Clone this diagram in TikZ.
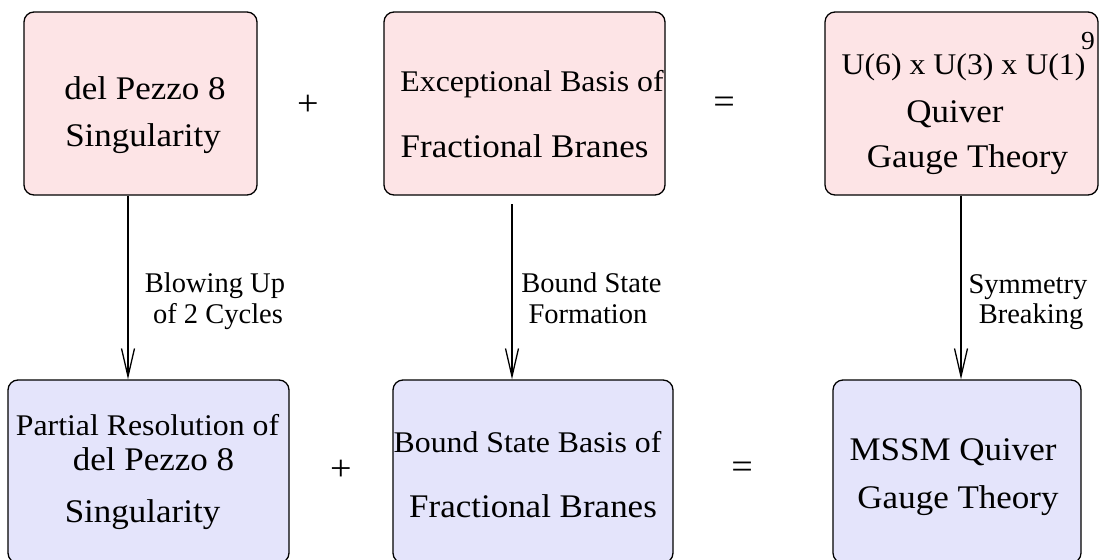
\documentclass[tikz,border=0pt]{standalone}
\usepackage{fontspec}
\setmainfont{Liberation Serif}
\newfontfamily\boxfont[FakeStretch=1.06]{Liberation Serif}
\usetikzlibrary{arrows.meta}
\definecolor{rose} {HTML}{FDE4E6}
\definecolor{lilac}{HTML}{E4E4FB}

\begin{document}
\begin{tikzpicture}[x=1pt, y=-1pt,
   topbox/.style={rectangle, draw=black, fill=rose, rounded corners=10pt, line width=1.3pt,
                  minimum height=183pt, inner sep=0pt},
   botbox/.style={topbox, fill=lilac},
   txt/.style={anchor=base, inner sep=0pt, font=\boxfont\fontsize{33}{39}\selectfont},
   txtsm/.style={txt, font=\boxfont\fontsize{30}{36}\selectfont},
   lab/.style={anchor=base, inner sep=0pt, font=\fontsize{28.5}{34}\selectfont},
   op/.style={inner sep=0pt, font=\boxfont\fontsize{36}{42}\selectfont},
   arr/.style={draw=black, line width=1.3pt, -{Straight Barb[length=28pt,width=13pt]}}
]
\useasboundingbox (0,0) rectangle (1099,559);
\clip (0,0) rectangle (1099,559);
% boxes
\node[topbox, minimum width=233pt] (dp)    at (140.5,103.5) {};
\node[topbox, minimum width=281pt] (exc)   at (524.5,103.5) {};
\node[topbox, minimum width=273pt] (gauge) at (961.5,103.5) {};
\node[botbox, minimum width=281pt] (res)   at (148.5,471.5) {};
\node[botbox, minimum width=280pt] (bnd)   at (533,471.5) {};
\node[botbox, minimum width=248pt] (mssm)  at (957,471.5) {};
% box texts
\node[txt]   (dp1) at (145,100)   {del Pezzo 8};
\node[txt]   (dp2) at (143,146)   {Singularity};
\node[txtsm] (ex1) at (532,92)    {Exceptional Basis of};
\node[txt]   (ex2) at (524.5,157) {Fractional Branes};
\node[txtsm] (ga1) at (963.5,75)  {U(6) x U(3) x U(1)};
\node[txt, font=\boxfont\fontsize{26}{30}\selectfont] (ga9) at (1088,50) {9};
\node[txt]   (ga2) at (955,123)   {Quiver};
\node[txt]   (ga3) at (967.5,167) {Gauge Theory};
\node[txtsm] (re1) at (147.5,435) {Partial Resolution of};
\node[txt]   (re2) at (153.5,470) {del Pezzo 8};
\node[txt]   (re3) at (142.5,522) {Singularity};
\node[txtsm] (bn1) at (527.5,452) {Bound State Basis of};
\node[txt]   (bn2) at (533,517)   {Fractional Branes};
\node[txt]   (ms1) at (953,460)   {MSSM Quiver};
\node[txt]   (ms2) at (958,508)   {Gauge Theory};
% plus and equals
\node[op] (plusT) at (308,105)   {+};
\node[op] (eqT)   at (724,105.5) {=};
\node[op] (plusB) at (341,470)   {+};
\node[op] (eqB)   at (742,470)   {=};
% arrows
\coordinate (xa) at (128,0);
\coordinate (sb) at (512,204);
\coordinate (xc) at (961,0);
\draw[arr] (dp.south -| xa) -- (res.north -| xa);
\draw[arr] (sb) -- (bnd.north -| sb);
\draw[arr] (gauge.south -| xc) -- (mssm.north -| xc);
% arrow labels
\node[lab] (la1) at (215,292)    {Blowing Up};
\node[lab] (la2) at (218,323)    {of 2 Cycles};
\node[lab] (lb1) at (591.5,292)  {Bound State};
\node[lab] (lb2) at (588,323)    {Formation};
\node[lab] (lc1) at (1028,293)   {Symmetry};
\node[lab] (lc2) at (1031,323)   {Breaking};
\end{tikzpicture}
\end{document}
